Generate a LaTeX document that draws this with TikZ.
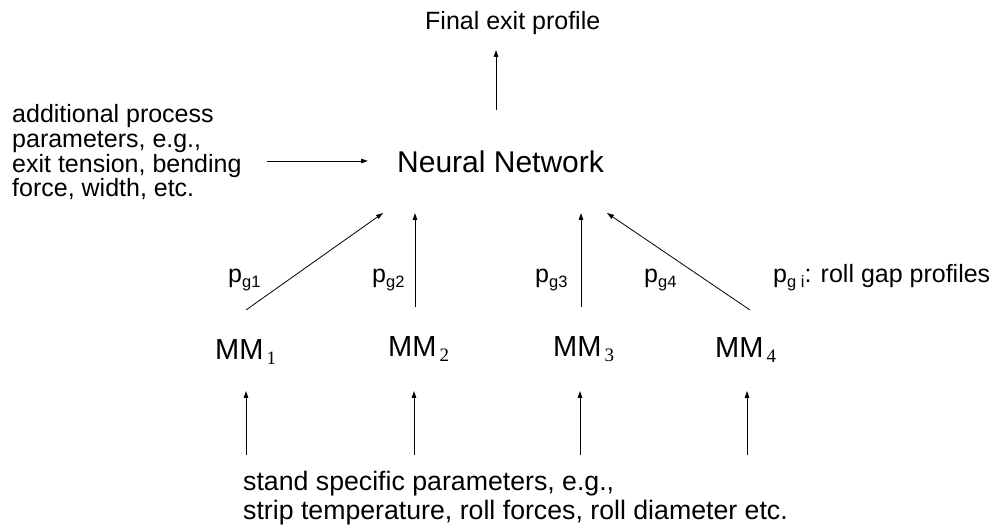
\documentclass[tikz,border=0pt]{standalone}
\usepackage{fontspec}
\setmainfont{Liberation Sans}
\newfontfamily\subserif{Liberation Serif}
\usetikzlibrary{arrows.meta}
\newcommand{\mmsub}[1]{\kern3pt\raisebox{-5pt}{\subserif\fontsize{19}{19}\selectfont #1}}
\newcommand{\pgsub}[1]{\raisebox{-5pt}{\fontsize{16.5}{16.5}\selectfont #1}}
\begin{document}
\begin{tikzpicture}[x=1pt,y=-1pt,
  arr/.style={-{Triangle[length=7pt,width=4.5pt]}, line width=0.8pt, black},
  lbl/.style={inner sep=0pt, anchor=base west, font=\fontsize{25}{24.7}\selectfont},
  botl/.style={inner sep=0pt, anchor=base west, font=\fontsize{26.7}{28.5}\selectfont},
  bigl/.style={inner sep=0pt, anchor=base west, font=\fontsize{30}{30}\selectfont},
  mml/.style={inner sep=0pt, anchor=base west, font=\fontsize{29}{29}\selectfont}]
\useasboundingbox (0,0) rectangle (994,529);
% texts
\node[lbl] (final) at (425,30) {Final exit profile};
\node[bigl] (nn) at (397,173) {Neural Network};
\node[lbl, align=left] (add) at (12,197) {additional process\\parameters, e.g.,\\exit tension, bending\\force, width, etc.};
\node[botl, align=left] (stand) at (243,519) {stand specific parameters, e.g.,\\strip temperature, roll forces, roll diameter etc.};
\node[mml] (mm1) at (215,360) {MM\mmsub{1}};
\node[mml] (mm2) at (388,357) {MM\mmsub{2}};
\node[mml] (mm3) at (553,357) {MM\mmsub{3}};
\node[mml] (mm4) at (715,358) {MM\mmsub{4}};
\node[lbl] (pg1) at (228,283) {p\pgsub{g1}};
\node[lbl] (pg2) at (372,283) {p\pgsub{g2}};
\node[lbl] (pg3) at (535,283) {p\pgsub{g3}};
\node[lbl] (pg4) at (644,283) {p\pgsub{g4}};
\node[lbl] (legend) at (773,283) {p\pgsub{g i}: roll gap profiles};
% connector ends
\coordinate (nnout) at (496,110);
\coordinate (finin) at (496,50);
\coordinate (addout) at (267,161);
\coordinate (nnleft) at (368,161);
\coordinate (mm1out) at (246,310);
\coordinate (nnin1) at (383,213);
\coordinate (mm2out) at (415,307);
\coordinate (nnin2) at (415,213);
\coordinate (mm3out) at (581,307);
\coordinate (nnin3) at (581,213);
\coordinate (mm4out) at (750,310);
\coordinate (nnin4) at (607,213);
\coordinate (s1) at (246,455); \coordinate (mm1in) at (246,391);
\coordinate (s2) at (414,455); \coordinate (mm2in) at (414,391);
\coordinate (s3) at (580,455); \coordinate (mm3in) at (580,391);
\coordinate (s4) at (747,455); \coordinate (mm4in) at (747,391);
% connectors
\draw[arr] (nnout) -- (finin);
\draw[arr] (addout) -- (nnleft);
\draw[arr] (mm1out) -- (nnin1);
\draw[arr] (mm2out) -- (nnin2);
\draw[arr] (mm3out) -- (nnin3);
\draw[arr] (mm4out) -- (nnin4);
\draw[arr] (s1) -- (mm1in);
\draw[arr] (s2) -- (mm2in);
\draw[arr] (s3) -- (mm3in);
\draw[arr] (s4) -- (mm4in);
\end{tikzpicture}
\end{document}
